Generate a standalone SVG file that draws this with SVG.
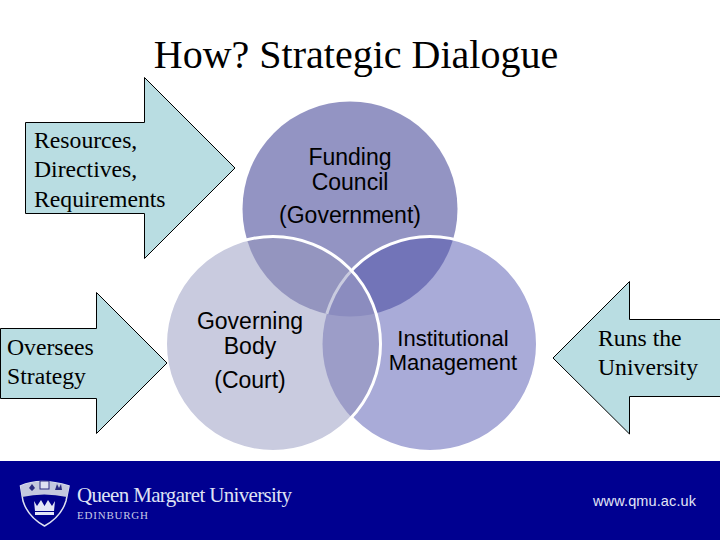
<svg xmlns="http://www.w3.org/2000/svg" width="720" height="540" viewBox="0 0 720 540">
<style>
.s{font-family:"Liberation Serif","Times New Roman",serif;fill:#000}
.a{font-family:"Liberation Sans",Arial,sans-serif;fill:#000;text-anchor:middle}
.t{font-size:23.700px}
.n{font-size:23px}
.m{font-size:22px}
.arrow{fill:#b9dde2;stroke:#000;stroke-width:1}
</style>
<defs>
<clipPath id="cT"><circle cx="350" cy="209" r="107.5"/></clipPath>
<clipPath id="cL"><circle cx="273" cy="344" r="107.5"/></clipPath>
<clipPath id="cR"><circle cx="430" cy="344" r="107.5"/></clipPath>
<mask id="notL"><rect width="720" height="540" fill="#fff"/><circle cx="273" cy="344" r="107.5" fill="#000"/></mask>
</defs>
<rect width="720" height="540" fill="#fff"/>
<text id="title" class="s" x="356" y="68" font-size="40" text-anchor="middle">How? Strategic Dialogue</text>
<g id="venn">
<circle cx="350" cy="209" r="107.5" fill="#9394c3"/>
<circle cx="430" cy="344" r="107.5" fill="#a9abd8"/>
<circle cx="273" cy="344" r="107.5" fill="#c9cbdf"/>
<g clip-path="url(#cT)"><circle cx="273" cy="344" r="107.5" fill="#9495bf"/><circle cx="430" cy="344" r="107.5" fill="#7274b8"/></g>
<g clip-path="url(#cL)"><circle cx="430" cy="344" r="107.5" fill="#9c9dc8"/></g>
<g clip-path="url(#cT)"><g clip-path="url(#cL)"><circle cx="430" cy="344" r="107.5" fill="#8b8cbf"/></g></g>
<circle cx="430" cy="344" r="107.5" fill="none" stroke="#fff" stroke-width="3" mask="url(#notL)"/>
<g clip-path="url(#cL)"><g clip-path="url(#cT)"><circle cx="430" cy="344" r="107.5" fill="none" stroke="#c9cbdf" stroke-width="3"/></g></g>
<circle cx="273" cy="344" r="107.5" fill="none" stroke="#fff" stroke-width="3"/>
</g>
<g id="connectors">
<polygon class="arrow" points="25.500,122.500 144.500,122.500 144.500,77.500 235,168 144.500,258.500 144.500,213.500 25.500,213.500"/>
<polygon class="arrow" points="0.500,328.500 96.500,328.500 96.500,292.500 167,363 96.500,433.500 96.500,398.500 0.500,398.500"/>
<polygon class="arrow" points="721,319.500 629.500,319.500 629.500,281.500 553,358 629.500,434 629.500,396.500 721,396.500"/>
</g>
<g id="n1"><text class="s t" x="34" y="148">Resources,</text><text class="s t" x="34" y="177">Directives,</text><text class="s t" x="34" y="207">Requirements</text></g>
<g id="n2"><text class="s t" x="7" y="355">Oversees</text><text class="s t" x="7" y="384">Strategy</text></g>
<g id="n3"><text class="s t" x="598" y="346">Runs the</text><text class="s t" x="598" y="375">University</text></g>
<g id="funding"><text class="a n" x="350" y="165">Funding</text><text class="a n" x="350" y="190">Council</text><text class="a n" x="350" y="223">(Government)</text></g>
<g id="governing"><text class="a n" x="250" y="329">Governing</text><text class="a n" x="250" y="354">Body</text><text class="a n" x="250" y="388">(Court)</text></g>
<g id="institutional"><text class="a m" x="453" y="346">Institutional</text><text class="a m" x="453" y="370">Management</text></g>
<g id="footer">
<rect y="461" width="720" height="79" fill="#000090"/>
<path d="M20.500 486Q40 477 69 486L66 501Q61 517 44.500 526Q28 517 23 501Z" fill="#00008a" stroke="#dfe2f2" stroke-width="1.500"/>
<path d="M20.500 486Q40 477 69 486L67 497Q44 492 22 497Z" fill="#c4c8de"/>
<rect x="40" y="481" width="9" height="8" fill="#dfe2f2" stroke="#2a2a80"/>
<path d="M29 488l3-4 3 4-3 3zM55 490l2-6 2 4 2-4 1 6z" fill="#2a2a80"/>
<path d="M34 501l3 5 4-6 3.500 6 3.500-6 4 6 3-5-1 10H35z" fill="#e3e6f6"/>
<rect x="35" y="512" width="19" height="3" fill="#e3e6f6"/>
<text x="77" y="502" font-family="Liberation Serif,serif" font-size="21" fill="#dfe2f4" textLength="215">Queen Margaret University</text>
<text x="77" y="519" font-family="Liberation Serif,serif" font-size="11" fill="#c6cae6" textLength="71">EDINBURGH</text>
<text x="593" y="506" font-family="Liberation Sans,Arial,sans-serif" font-size="14.500" fill="#e3e6f6" textLength="103">www.qmu.ac.uk</text>
</g>
</svg>
